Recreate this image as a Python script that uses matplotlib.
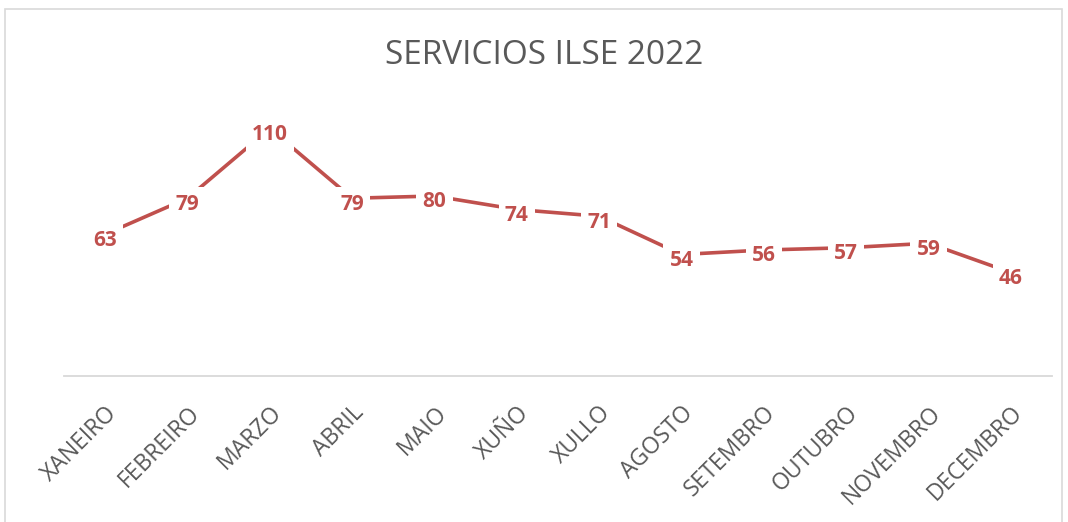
import matplotlib.pyplot as plt
from matplotlib.patches import Rectangle

# datos do gráfico
meses = ['XANEIRO', 'FEBREIRO', 'MARZO', 'ABRIL', 'MAIO', 'XUÑO', 'XULLO',
         'AGOSTO', 'SETEMBRO', 'OUTUBRO', 'NOVEMBRO', 'DECEMBRO']
servicios = [63, 79, 110, 79, 80, 74, 71, 54, 56, 57, 59, 46]

plt.rcParams['font.family'] = ['Open Sans', 'DejaVu Sans']

fig = plt.figure(figsize=(10.68, 5.22), dpi=100)
ax = fig.add_axes([64 / 1068, 1 - 376 / 522, 988 / 1068, 270 / 522])

x = list(range(len(meses)))
ax.plot(x, servicios, color='#C0504D', lw=2.6, solid_capstyle='butt', zorder=2)

# etiquetas de datos sobre a liña
for xi, v in zip(x, servicios):
    ax.annotate(str(v), (xi, v), xytext=(0, -2.5), textcoords='offset points',
                ha='center', va='center_baseline', fontsize=15,
                fontweight='bold', color='#C0504D', zorder=3,
                bbox=dict(boxstyle='square,pad=0.3', fc='white', ec='none'))

ax.set_xlim(-0.5, len(meses) - 0.5)
ax.set_ylim(0, 120)
ax.set_xticks(x)
ax.set_xticklabels(meses, rotation=45, ha='right', rotation_mode='anchor',
                   fontsize=16.5, color='#595959')
ax.tick_params(axis='x', length=0, pad=18)
ax.set_yticks([])
for s in ['left', 'right', 'top']:
    ax.spines[s].set_visible(False)
ax.spines['bottom'].set_color('#D9D9D9')
ax.spines['bottom'].set_linewidth(1.3)

fig.text(544 / 1068, 1 - 55 / 522, 'SERVICIOS ILSE 2022', ha='center', va='center',
         fontsize=24, color='#595959')

# marco do gráfico
fig.patches.append(Rectangle((5 / 1068, -0.01), 1057 / 1068, 1 - 9 / 522 + 0.01,
                             transform=fig.transFigure, fill=False,
                             ec='#D9D9D9', lw=1.2))

fig.savefig('out.png', dpi=100)
